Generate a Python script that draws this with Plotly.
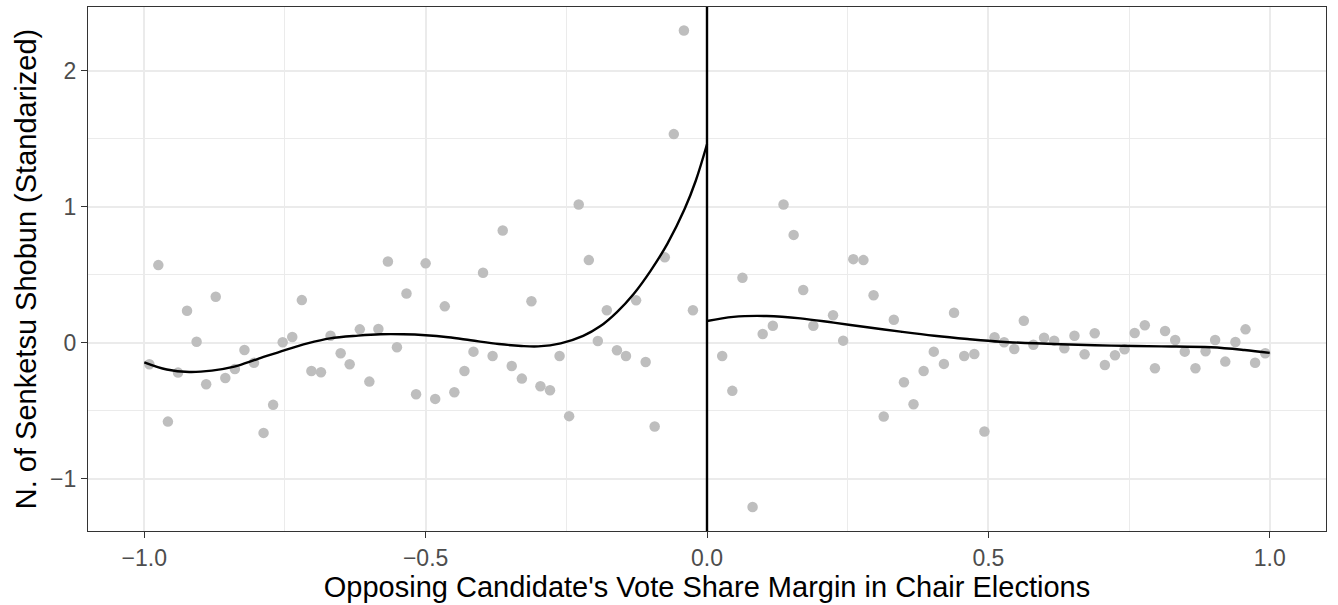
import plotly.graph_objects as go

# Binned means, left of the cutoff (opposing candidate lost)
left_x = [-0.991, -0.975, -0.958, -0.940, -0.924, -0.907, -0.890, -0.873, -0.856, -0.839,
          -0.822, -0.805, -0.788, -0.771, -0.754, -0.737, -0.720, -0.703, -0.686, -0.669,
          -0.651, -0.635, -0.617, -0.600, -0.584, -0.567, -0.551, -0.534, -0.517, -0.500,
          -0.483, -0.466, -0.449, -0.431, -0.415, -0.398, -0.381, -0.363, -0.347, -0.329,
          -0.312, -0.296, -0.279, -0.262, -0.245, -0.228, -0.210, -0.194, -0.178, -0.160,
          -0.144, -0.126, -0.109, -0.093, -0.075, -0.059, -0.041, -0.025]
left_y = [-0.158, 0.570, -0.580, -0.220, 0.235, 0.007, -0.305, 0.338, -0.259, -0.193,
          -0.054, -0.147, -0.663, -0.457, 0.003, 0.042, 0.313, -0.208, -0.217, 0.051,
          -0.078, -0.158, 0.098, -0.286, 0.100, 0.597, -0.034, 0.362, -0.379, 0.583,
          -0.413, 0.267, -0.364, -0.208, -0.066, 0.514, -0.098, 0.825, -0.171, -0.264,
          0.304, -0.320, -0.349, -0.098, -0.540, 1.015, 0.607, 0.012, 0.238, -0.056,
          -0.098, 0.311, -0.142, -0.616, 0.627, 1.533, 2.294, 0.238]

# Binned means, right of the cutoff
right_x = [0.027, 0.045, 0.063, 0.081, 0.099, 0.117, 0.136, 0.154, 0.171, 0.189,
           0.224, 0.242, 0.260, 0.278, 0.296, 0.314, 0.332, 0.350, 0.367, 0.385,
           0.403, 0.421, 0.439, 0.457, 0.475, 0.493, 0.511, 0.528, 0.546, 0.563,
           0.580, 0.599, 0.617, 0.635, 0.653, 0.671, 0.689, 0.707, 0.725, 0.742,
           0.760, 0.778, 0.796, 0.814, 0.832, 0.849, 0.868, 0.886, 0.903, 0.921,
           0.939, 0.957, 0.974, 0.992]
right_y = [-0.098, -0.354, 0.477, -1.208, 0.064, 0.125, 1.015, 0.792, 0.387, 0.125,
           0.201, 0.015, 0.614, 0.607, 0.348, -0.543, 0.169, -0.291, -0.452, -0.208,
           -0.066, -0.156, 0.220, -0.098, -0.083, -0.653, 0.040, 0.003, -0.046, 0.161,
           -0.015, 0.037, 0.015, -0.041, 0.051, -0.085, 0.069, -0.164, -0.092, -0.049,
           0.071, 0.128, -0.188, 0.086, 0.020, -0.066, -0.188, -0.063, 0.020, -0.139,
           0.005, 0.098, -0.147, -0.078]

# Fitted polynomial curves on each side of the cutoff
fit_left_x = [-1.0, -0.96, -0.92, -0.88, -0.84, -0.80, -0.75, -0.71, -0.67, -0.62, -0.58,
              -0.54, -0.50, -0.46, -0.42, -0.37, -0.33, -0.30, -0.26, -0.22, -0.19,
              -0.16, -0.13, -0.10, -0.07, -0.04, -0.02, 0.0]
fit_left_y = [-0.144, -0.197, -0.215, -0.205, -0.176, -0.122, -0.054, -0.005, 0.032,
              0.052, 0.062, 0.062, 0.055, 0.040, 0.018, -0.010, -0.024, -0.027, -0.005,
              0.050, 0.120, 0.225, 0.360, 0.530, 0.730, 0.980, 1.190, 1.458]
fit_right_x = [0.0, 0.047, 0.106, 0.166, 0.225, 0.285, 0.344, 0.404, 0.463, 0.522,
               0.629, 0.718, 0.807, 0.896, 0.955, 1.0]
fit_right_y = [0.159, 0.190, 0.196, 0.179, 0.147, 0.113, 0.081, 0.051, 0.027, 0.007,
               -0.012, -0.022, -0.027, -0.034, -0.054, -0.075]

x_ticks = [-1.0, -0.5, 0.0, 0.5, 1.0]
x_tick_labels = ["\u22121.0", "\u22120.5", "0.0", "0.5", "1.0"]
y_ticks = [-1, 0, 1, 2]
y_tick_labels = ["\u22121", "0", "1", "2"]

POINT_COLOR = "#BEBEBE"
GRID = "#EBEBEB"
AXIS = "#333333"
FONT = "Liberation Sans, Arial, sans-serif"

fig = go.Figure()
fig.add_trace(go.Scatter(x=left_x + right_x, y=left_y + right_y, mode="markers",
                         marker=dict(color=POINT_COLOR, size=10.5, line=dict(width=0)),
                         hoverinfo="x+y", showlegend=False))
for fx, fy in ((fit_left_x, fit_left_y), (fit_right_x, fit_right_y)):
    fig.add_trace(go.Scatter(x=fx, y=fy, mode="lines",
                             line=dict(color="black", width=2.4, shape="spline", smoothing=1),
                             showlegend=False))

# Cutoff line at zero margin
fig.add_shape(type="line", x0=0, x1=0, y0=0, y1=1, xref="x", yref="paper",
              line=dict(color="black", width=2.4), layer="above")

axis_common = dict(
    showline=True, mirror=True, linecolor=AXIS, linewidth=1.3,
    ticks="outside", ticklen=6, tickwidth=1.3, tickcolor=AXIS,
    showgrid=True, gridcolor=GRID, gridwidth=2, zeroline=False,
    tickfont=dict(family=FONT, size=23, color="#4D4D4D"),
)

fig.update_layout(
    width=1338, height=605,
    margin=dict(l=88, r=12, t=7, b=74),
    paper_bgcolor="white", plot_bgcolor="white",
    font=dict(family=FONT, color="black"),
    xaxis=dict(range=[-1.1, 1.1], tickvals=x_ticks, ticktext=x_tick_labels,
               minor=dict(tickvals=[-0.75, -0.25, 0.25, 0.75], showgrid=True,
                          gridcolor=GRID, gridwidth=1, ticks=""),
               title=dict(text="Opposing Candidate's Vote Share Margin in Chair Elections",
                          font=dict(family=FONT, size=29, color="black"), standoff=3),
               automargin=False, **axis_common),
    yaxis=dict(range=[-1.384, 2.467], tickvals=y_ticks, ticktext=y_tick_labels,
               minor=dict(tickvals=[-0.5, 0.5, 1.5], showgrid=True,
                          gridcolor=GRID, gridwidth=1, ticks=""),
               title=dict(text="N. of Senketsu Shobun (Standarized)",
                          font=dict(family=FONT, size=29, color="black"), standoff=4),
               automargin=False, **axis_common),
)

fig.write_html("out.html")
